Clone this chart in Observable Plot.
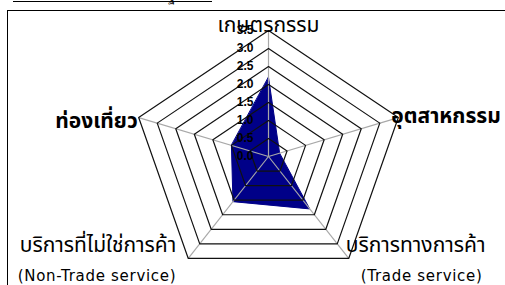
<!DOCTYPE html>
<html>
<head>
<meta charset="utf-8">
<script src="https://cdn.jsdelivr.net/npm/d3@7"></script>
<script src="https://cdn.jsdelivr.net/npm/@observablehq/plot@0.6"></script>
<style>
  html, body { margin: 0; padding: 0; background: #fff; }
  #wrap { position: relative; width: 505px; height: 285px; overflow: hidden; background: #fff; }
  #wrap svg { position: absolute; left: 0; top: 0; }
  .frame { position: absolute; left: 7px; top: 10px; width: 600px; height: 400px; border-left: 1px solid #000; border-top: 1px solid #000; }
  .topline { position: absolute; left: 13px; top: 1px; width: 199px; border-top: 1px solid #000; }
  .cut { position: absolute; left: 168px; top: -14px; font: 13px "DejaVu Sans", sans-serif; }
</style>
</head>
<body>
<div id="wrap">
  <div class="topline"></div>
  <div class="cut">ฐ</div>
  <div class="frame"></div>
</div>
<script>
const categories = ["เกษตรกรรม", "อุตสาหกรรม", "บริการทางการค้า", "บริการที่ไม่ใช่การค้า", "ท่องเที่ยว"];
const subLabels = ["", "", "(Trade service)", "(Non-Trade service)", ""];
const values = [2.2, 0.3, 1.8, 1.55, 1.0];
const ticks = [0, 0.5, 1.0, 1.5, 2.0, 2.5, 3.0, 3.5];
const rMax = 3.5;

const n = categories.length;
const ang = i => i * 2 * Math.PI / n;
const px = (r, i) => r * Math.sin(ang(i));
const py = (r, i) => r * Math.cos(ang(i));

const series = values.map((v, i) => ({cat: categories[i], x: px(v, i), y: py(v, i)}));
const rings = [];
ticks.filter(t => t > 0).forEach(t => {
  for (let i = 0; i < n; i++) rings.push({ring: t, x: px(t, i), y: py(t, i)});
});
const spokes = categories.map((c, i) => ({x1: 0, y1: 0, x2: px(rMax, i), y2: py(rMax, i)}));

// pixel mapping: centre at (268,156), 39 px/unit horizontally, 36 px/unit vertically
const W = 505, H = 285, cx = 268, cy = 156, kx = 39, ky = 36;
const xDomain = [-cx / kx, (W - cx) / kx];
const yDomain = [-(H - cy) / ky, cy / ky];

const thaiFont = "'Noto Sans Thai', 'Tahoma', 'DejaVu Sans', sans-serif";
const latinFont = "'DejaVu Sans', Tahoma, sans-serif";

function label(i, text, opts) {
  return Plot.text([text], {
    x: px(rMax, i), y: py(rMax, i), text: d => d,
    fill: "#000", fontFamily: thaiFont, ...opts
  });
}

const chart = Plot.plot({
  width: W, height: H,
  marginTop: 0, marginRight: 0, marginBottom: 0, marginLeft: 0,
  x: {domain: xDomain, range: [0, W], axis: null},
  y: {domain: yDomain, range: [H, 0], axis: null},
  style: {background: "transparent"},
  marks: [
    Plot.line(series, {x: "x", y: "y", curve: "linear-closed", fill: "#000088", stroke: "#000088", strokeWidth: 1}),
    Plot.link(spokes, {x1: "x1", y1: "y1", x2: "x2", y2: "y2", stroke: "#a8a8a8", strokeWidth: 1.2}),
    Plot.line(rings, {x: "x", y: "y", z: "ring", curve: "linear-closed", stroke: "#111", strokeWidth: 1.2}),
    Plot.text(ticks, {x: 0, y: d => d, text: d => d.toFixed(1), textAnchor: "end", dx: -15, dy: 0,
      fontFamily: "Arial, 'Liberation Sans', sans-serif", fontWeight: "bold", fontSize: 12, fill: "#000"}),
    label(0, categories[0], {textAnchor: "middle", dy: -5, fontSize: 21}),
    label(1, categories[1], {textAnchor: "start", dx: -7, dy: -1, fontSize: 21, fontWeight: "bold"}),
    label(4, categories[4], {textAnchor: "end", dx: -1, dy: 4, fontSize: 21, fontWeight: "bold"}),
    label(2, categories[2], {textAnchor: "start", dx: -3, dy: -13, fontSize: 21}),
    label(3, categories[3], {textAnchor: "end", dx: -12, dy: -13, fontSize: 21}),
    label(2, subLabels[2], {textAnchor: "start", dx: 12, dy: 18, fontSize: 15, fontFamily: latinFont}),
    label(3, subLabels[3], {textAnchor: "end", dx: -12, dy: 18, fontSize: 15, fontFamily: latinFont})
  ]
});
d3.select(chart).selectAll("text")
  .filter(function() { return /service/.test(this.textContent); })
  .style("letter-spacing", "0.7px");
document.getElementById("wrap").prepend(chart);
</script>
</body>
</html>
